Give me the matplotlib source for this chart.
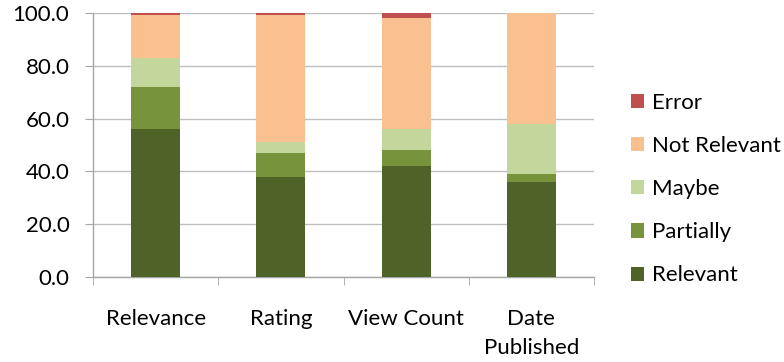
import matplotlib
matplotlib.use("Agg")
import matplotlib.pyplot as plt
import numpy as np
from matplotlib.patches import Patch

plt.rcParams['font.family'] = ['Lato', 'DejaVu Sans']

categories = ["Relevance", "Rating", "View Count", "Date\nPublished"]
relevant = [56.0, 38.0, 42.0, 36.0]
partially = [16.0, 9.0, 6.0, 3.0]
maybe = [11.0, 4.0, 8.0, 19.0]
not_relevant = [16.2, 48.2, 42.0, 42.0]
error = [0.8, 0.8, 2.0, 0.0]

series = [
    ("Relevant", relevant, "#4F6228"),
    ("Partially", partially, "#77933C"),
    ("Maybe", maybe, "#C3D69B"),
    ("Not Relevant", not_relevant, "#FAC090"),
    ("Error", error, "#C0504D"),
]

FS = 16

fig = plt.figure(figsize=(7.84, 3.62), dpi=100)
ax = fig.add_axes([93 / 784, 1 - 277 / 362, (594 - 93) / 784, (277 - 13) / 362])

x = np.arange(len(categories))
bottom = np.zeros(len(categories))
for name, vals, color in series:
    ax.bar(x, vals, width=0.39, bottom=bottom, color=color, zorder=3, linewidth=0)
    bottom += np.array(vals)

ax.set_xlim(-0.5, len(categories) - 0.5)
ax.set_ylim(0, 100)
ax.set_yticks(np.arange(0, 101, 20))
ax.set_yticklabels([f"{v:.1f}" for v in np.arange(0, 101, 20)], fontsize=FS)
ax.yaxis.grid(True, color="#BFBFBF", linewidth=1.0, zorder=0)
ax.set_axisbelow(True)

ax.set_xticks(x)
ax.set_xticklabels(categories, fontsize=FS, linespacing=1.55)
ax.set_xticks(np.arange(-0.5, len(categories)), minor=True)
ax.tick_params(axis="x", which="major", length=0, pad=23)
ax.tick_params(axis="x", which="minor", length=6, color="#A6A6A6", direction="out")
ax.tick_params(axis="y", length=6, color="#A6A6A6", direction="out", pad=11)

for side in ["top", "right"]:
    ax.spines[side].set_visible(False)
for side in ["left", "bottom"]:
    ax.spines[side].set_color("#A6A6A6")
    ax.spines[side].set_linewidth(1.0)

handles = [Patch(facecolor=c, label=n) for n, _, c in reversed(series)]
fig.legend(handles=handles, loc="upper left", bbox_to_anchor=(631 / 784, 1 - 93 / 362),
           frameon=False, fontsize=FS, handlelength=0.6, handleheight=0.6,
           handletextpad=0.35, labelspacing=1.04, borderpad=0, borderaxespad=0)

fig.savefig("out.png", dpi=100)
